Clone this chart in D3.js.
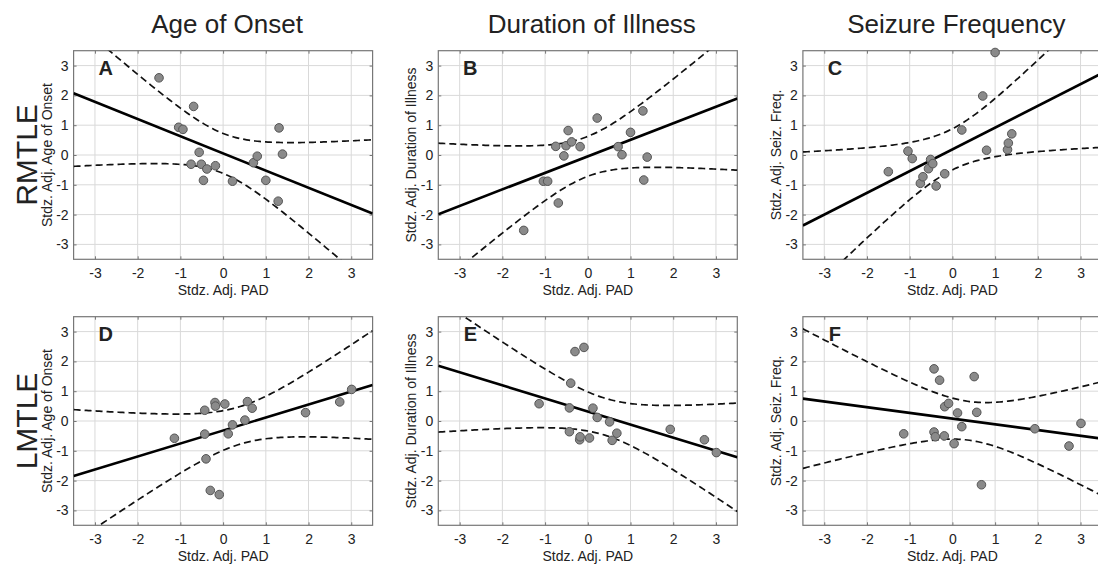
<!DOCTYPE html>
<html>
<head>
<meta charset="utf-8">
<script src="https://cdn.jsdelivr.net/npm/d3@7"></script>
<style>
body { margin: 0; background: #fff; }
svg text { font-family: "Liberation Sans", Arial, sans-serif; fill: #222; }
</style>
</head>
<body>
<svg id="chart" width="1098" height="564"></svg>
<script>
// labels
var measures = ["Age of Onset", "Duration of Illness", "Seizure Frequency"];
var yTitles = ["Stdz. Adj. Age of Onset", "Stdz. Adj. Duration of Illness", "Stdz. Adj. Seiz. Freq."];
var groups = ["RMTLE", "LMTLE"];
var letters = [["A", "B", "C"], ["D", "E", "F"]];
var ticks = [-3, -2, -1, 0, 1, 2, 3];

// standardized adjusted PAD per group (x values, same subjects in every column)
var rmtlePad = [-1.50, -1.04, -0.94, -0.75, -0.69, -0.56, -0.51, -0.46, -0.38, -0.18, 0.22, 0.71, 0.80, 1.00, 1.29, 1.31, 1.39];
var lmtlePad = [-1.14, -0.43, -0.43, -0.40, -0.30, -0.19, -0.18, -0.09, 0.04, 0.12, 0.22, 0.51, 0.57, 0.68, 1.93, 2.73, 3.01];

// y values, same order as the PAD arrays
var rmtleAge  = [2.59, 0.93, 0.86, -0.31, 1.63, 0.09, -0.31, -0.85, -0.47, -0.36, -0.88, -0.26, -0.04, -0.85, -1.55, 0.91, 0.03];
var rmtleDur  = [-2.53, -0.88, -0.88, 0.29, -1.61, -0.03, 0.31, 0.82, 0.44, 0.28, 1.24, 0.28, 0.01, 0.76, 1.48, -0.84, -0.07];
var rmtleSeiz = [-0.56, 0.13, -0.12, -0.95, -0.73, -0.46, -0.15, -0.29, -1.04, -0.63, 0.84, 1.98, 0.16, 3.44, 0.18, 0.40, 0.71];
var lmtleAge  = [-0.58, 0.36, -0.44, -1.27, -2.33, 0.62, 0.50, -2.47, 0.57, -0.43, -0.13, 0.03, 0.65, 0.43, 0.28, 0.64, 1.06];
var lmtleDur  = [0.58, -0.36, 0.44, 1.27, 2.33, -0.63, -0.53, 2.47, -0.57, 0.43, 0.12, -0.03, -0.65, -0.41, -0.28, -0.63, -1.06];
var lmtleSeiz = [-0.43, 1.75, -0.37, -0.53, 1.37, -0.50, 0.48, 0.59, -0.76, 0.27, -0.19, 1.49, 0.29, -2.14, -0.26, -0.84, -0.08];

// fitted line and confidence band (rows: RMTLE, LMTLE)
var fitIntercept = [[0.054, -0.045, 0.19], [-0.32, 0.32, 0.08]];
var fitSlope     = [[-0.576, 0.555, 0.73], [0.437, -0.439, -0.192]];
var ciHalf       = [[0.67, 0.67, 0.69], [0.63, 0.62, 0.65]];
var ciGrowth     = [[0.677, 0.657, 0.68], [0.55, 0.55, 0.578]];

var padX = [rmtlePad, lmtlePad];
var panelY = [[rmtleAge, rmtleDur, rmtleSeiz], [lmtleAge, lmtleDur, lmtleSeiz]];

var W = 299, H = 208.6;
var colLeft = [73.6, 438.3, 802.9];
var rowTop = [50.7, 316.7];

var svg = d3.select("#chart");
svg.append("rect").attr("width", 1098).attr("height", 564).attr("fill", "#fff");
var defs = svg.append("defs");

var x = d3.scaleLinear().domain([-3.5, 3.5]).range([0, W]);
var y = d3.scaleLinear().domain([-3.5, 3.5]).range([H, 0]);
var fmt = function(d) { return String(d); };

// column titles
svg.selectAll(".coltitle")
	.data(measures)
	.enter()
		.append("text")
		.attr("class", "coltitle")
		.attr("x", function(d, i) { return colLeft[i] + W / 2 + 4; })
		.attr("y", 33)
		.attr("text-anchor", "middle")
		.style("font-size", "26px")
		.text(function(d) { return d; });

// row titles
svg.selectAll(".rowtitle")
	.data(groups)
	.enter()
		.append("text")
		.attr("class", "rowtitle")
		.attr("transform", function(d, i) { return "translate(26," + (rowTop[i] + H / 2) + ") rotate(-90)"; })
		.attr("text-anchor", "middle")
		.attr("dy", "0.35em")
		.style("font-size", "30px")
		.text(function(d) { return d; });

var xs = d3.range(-3.5, 3.5001, 0.05);

for (var r = 0; r < 2; r++) {
	for (var c = 0; c < 3; c++) {
		var gp = svg.append("g").attr("transform", "translate(" + colLeft[c] + "," + rowTop[r] + ")");
		var clipId = "clip" + r + c;
		defs.append("clipPath").attr("id", clipId)
			.append("rect").attr("width", W).attr("height", H);

		// grid
		gp.selectAll(".gx").data(ticks).enter().append("line")
			.attr("x1", function(d) { return x(d); }).attr("x2", function(d) { return x(d); })
			.attr("y1", 0).attr("y2", H)
			.attr("stroke", "#d9d9d9");
		gp.selectAll(".gy").data(ticks).enter().append("line")
			.attr("y1", function(d) { return y(d); }).attr("y2", function(d) { return y(d); })
			.attr("x1", 0).attr("x2", W)
			.attr("stroke", "#d9d9d9");

		// axes
		gp.append("g").attr("transform", "translate(0," + H + ")")
			.call(d3.axisBottom(x).tickValues(ticks).tickSize(-3).tickSizeOuter(0).tickPadding(8.5).tickFormat(fmt));
		gp.append("g")
			.call(d3.axisLeft(y).tickValues(ticks).tickSize(-3).tickSizeOuter(0).tickPadding(5).tickFormat(fmt));
		gp.append("g")
			.call(d3.axisTop(x).tickValues(ticks).tickSize(-3).tickSizeOuter(0).tickFormat(""));
		gp.append("g").attr("transform", "translate(" + W + ",0)")
			.call(d3.axisRight(y).tickValues(ticks).tickSize(-3).tickSizeOuter(0).tickFormat(""));
		gp.selectAll(".domain").remove();
		gp.selectAll(".tick line").attr("stroke", "#777");
		gp.selectAll(".tick text").style("font-size", "14px").attr("fill", "#222");

		gp.append("rect").attr("width", W).attr("height", H)
			.attr("fill", "none").attr("stroke", "#777").attr("stroke-width", 1.2);

		// axis titles
		gp.append("text")
			.attr("x", W / 2).attr("y", H + 36)
			.attr("text-anchor", "middle")
			.style("font-size", "14px")
			.text("Stdz. Adj. PAD");
		gp.append("text")
			.attr("transform", "translate(-27," + (H / 2) + ") rotate(-90)")
			.attr("text-anchor", "middle")
			.attr("dy", "0.35em")
			.style("font-size", "14px")
			.text(yTitles[c]);

		// fit and confidence band
		var a = fitIntercept[r][c], b = fitSlope[r][c];
		var h0 = ciHalf[r][c], k = ciGrowth[r][c];
		var xm = d3.mean(padX[r]);
		var half = function(v) { return Math.sqrt(h0 * h0 + k * k * (v - xm) * (v - xm)); };
		var plot = gp.append("g").attr("clip-path", "url(#" + clipId + ")");
		var line = d3.line().x(function(d) { return x(d[0]); }).y(function(d) { return y(d[1]); });

		plot.append("path")
			.datum(xs.map(function(v) { return [v, a + b * v + half(v)]; }))
			.attr("d", line).attr("fill", "none")
			.attr("stroke", "#111").attr("stroke-width", 1.7).attr("stroke-dasharray", "7,4");
		plot.append("path")
			.datum(xs.map(function(v) { return [v, a + b * v - half(v)]; }))
			.attr("d", line).attr("fill", "none")
			.attr("stroke", "#111").attr("stroke-width", 1.7).attr("stroke-dasharray", "7,4");

		// points
		var pts = padX[r].map(function(v, i) { return [v, panelY[r][c][i]]; });
		gp.selectAll(".pt").data(pts).enter().append("circle")
			.attr("class", "pt")
			.attr("cx", function(d) { return x(d[0]); })
			.attr("cy", function(d) { return y(d[1]); })
			.attr("r", 4.3)
			.attr("fill", "#8a8a8a")
			.attr("stroke", "#555")
			.attr("stroke-width", 1);

		plot.append("path")
			.datum([[-3.5, a - b * 3.5], [3.5, a + b * 3.5]])
			.attr("d", line).attr("fill", "none")
			.attr("stroke", "#000").attr("stroke-width", 2.6);

		// panel letter
		gp.append("text")
			.attr("x", x(-2.75)).attr("y", y(2.92))
			.attr("text-anchor", "middle")
			.attr("dy", "0.36em")
			.style("font-size", "20px").style("font-weight", "bold")
			.attr("fill", "#000")
			.text(letters[r][c]);
	}
}
</script>
</body>
</html>
